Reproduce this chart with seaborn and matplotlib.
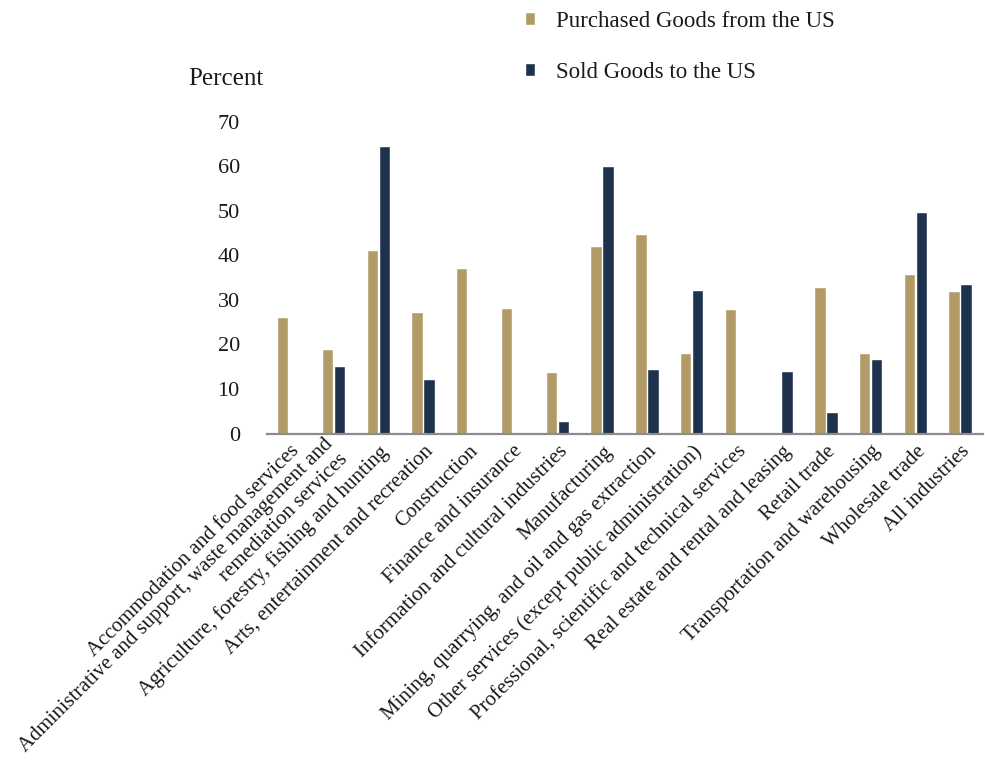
# Grouped bar chart: share of firms buying from / selling to the US, by industry
import numpy as np
import pandas as pd
import matplotlib
matplotlib.use('Agg')
import matplotlib.pyplot as plt
import matplotlib.transforms as mtransforms
import seaborn as sns

# Data
industries = [
    'Accommodation and food services',
    'Administrative and support, waste management and\nremediation services',
    'Agriculture, forestry, fishing and hunting',
    'Arts, entertainment and recreation',
    'Construction',
    'Finance and insurance',
    'Information and cultural industries',
    'Manufacturing',
    'Mining, quarrying, and oil and gas extraction',
    'Other services (except public administration)',
    'Professional, scientific and technical services',
    'Real estate and rental and leasing',
    'Retail trade',
    'Transportation and warehousing',
    'Wholesale trade',
    'All industries',
]
purchased = [26.0, 18.8, 40.9, 27.0, 36.9, 28.0, 13.6, 41.9, 44.5, 17.8, 27.7, np.nan, 32.7, 17.8, 35.6, 31.8]
sold = [np.nan, 15.0, 64.4, 12.0, np.nan, np.nan, 2.6, 59.8, 14.2, 32.1, np.nan, 13.8, 4.7, 16.4, 49.6, 33.4]
series_names = ['Purchased Goods from the US', 'Sold Goods to the US']
colors = ['#BFA05A', '#163055']

# Long format for seaborn
df = pd.DataFrame({
    'industry': industries * 2,
    'pct': purchased + sold,
    'series': [series_names[0]] * len(industries) + [series_names[1]] * len(industries),
}).dropna()

sns.set_style('white')
plt.rcParams['font.family'] = ['Liberation Serif', 'DejaVu Serif']
text_color = '#1a1a1a'

fig = plt.figure(figsize=(9.85, 7.7), dpi=100)
ax = fig.add_axes([0.271, 0.437, 0.727, 0.405])

sns.barplot(data=df, x='industry', y='pct', hue='series',
            order=industries, hue_order=series_names, palette=colors,
            width=0.54, gap=0.14, errorbar=None,
            edgecolor='white', linewidth=0.3, ax=ax)

ax.set_ylim(0, 70)
ax.set_yticks(range(0, 71, 10))
ax.set_xlim(-0.5, len(industries) - 0.5)
ax.set_xlabel('')
ax.set_ylabel('')
ax.tick_params(axis='y', length=0, pad=19.5, labelsize=16, labelcolor=text_color)
ax.tick_params(axis='x', length=0, pad=6, labelsize=15, labelcolor=text_color)
plt.setp(ax.get_xticklabels(), rotation=45, ha='right', rotation_mode='anchor')

# the wrapped label sits centred on its tick, nudge it up-left
wrapped = ax.get_xticklabels()[1]
wrapped.set_transform(wrapped.get_transform() +
                      mtransforms.ScaledTranslation(-11 / 100, 7 / 100, fig.dpi_scale_trans))

# Only the baseline is drawn
for side in ['top', 'right', 'left']:
    ax.spines[side].set_visible(False)
ax.spines['bottom'].set_color('#8c8c8c')
ax.spines['bottom'].set_linewidth(1.6)

fig.text(0.191, 0.897, 'Percent', fontsize=18, color=text_color, va='center', ha='left')

# Legend at the top, two rows
handles, labels = ax.get_legend_handles_labels()
ax.legend_.remove()
fig.legend(handles, labels, loc='upper left', bbox_to_anchor=(0.513, 1.012),
           frameon=False, fontsize=16.5, handlelength=0.4, handleheight=0.4,
           handletextpad=0.9, labelspacing=1.3, labelcolor=text_color)

fig.savefig('out.png', dpi=100)
